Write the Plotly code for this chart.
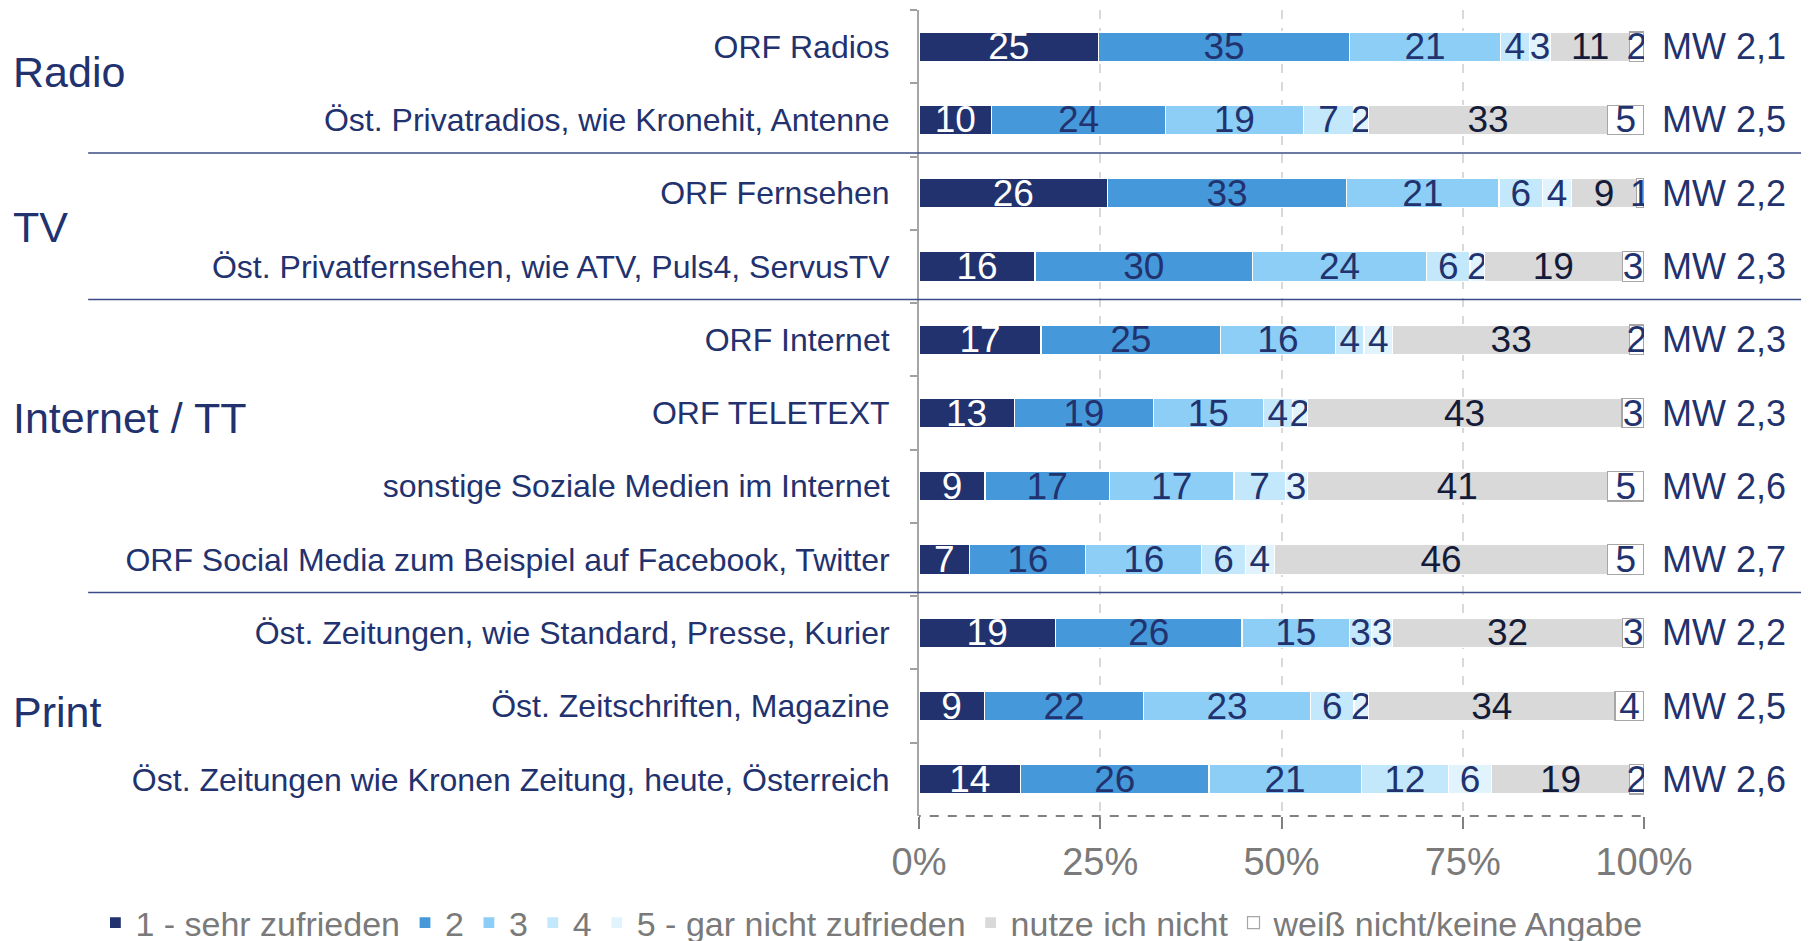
import plotly.graph_objects as go

categories = [
    "ORF Radios",
    "Öst. Privatradios, wie Kronehit, Antenne",
    "ORF Fernsehen",
    "Öst. Privatfernsehen, wie ATV, Puls4, ServusTV",
    "ORF Internet",
    "ORF TELETEXT",
    "sonstige Soziale Medien im Internet",
    "ORF Social Media zum Beispiel auf Facebook, Twitter",
    "Öst. Zeitungen, wie Standard, Presse, Kurier",
    "Öst. Zeitschriften, Magazine",
    "Öst. Zeitungen wie Kronen Zeitung, heute, Österreich",
]
groups = ["Radio", "TV", "Internet / TT", "Print"]
group_pos = [0.35, 2.46, 5.07, 9.08]
separators = [1.45, 3.45, 7.45]

series_names = ["1 - sehr zufrieden", "2", "3", "4", "5 - gar nicht zufrieden",
                "nutze ich nicht", "weiß nicht/keine Angabe"]
s1 = [25, 10, 26, 16, 17, 13, 9, 7, 19, 9, 14]
s2 = [35, 24, 33, 30, 25, 19, 17, 16, 26, 22, 26]
s3 = [21, 19, 21, 24, 16, 15, 17, 16, 15, 23, 21]
s4 = [4, 7, 6, 6, 4, 4, 7, 6, 3, 6, 12]
s5 = [3, 2, 4, 2, 4, 2, 3, 4, 3, 2, 6]
s6 = [11, 33, 9, 19, 33, 43, 41, 46, 32, 34, 19]
s7 = [2, 5, 1, 3, 2, 3, 5, 5, 3, 4, 2]
mw = ["2,1", "2,5", "2,2", "2,3", "2,3", "2,3", "2,6", "2,7", "2,2", "2,5", "2,6"]
tick_vals = [0, 25, 50, 75, 100]
tick_text = ["0%", "25%", "50%", "75%", "100%"]

series = [s1, s2, s3, s4, s5, s6, s7]
colors = ["#22326e", "#4599da", "#8ccef6", "#c3e8fb", "#e1f4fd", "#d9d9d9", "#ffffff"]
text_colors = ["#ffffff", "#22326e", "#22326e", "#22326e", "#22326e", "#141b38", "#22326e"]
line_colors = ["#ffffff"] * 6 + ["#a6a6a6"]

NAVY = "#22326e"
FONT = "Liberation Sans, Arial, sans-serif"

fig = go.Figure()
for name, vals, c, tc, lc in zip(series_names, series, colors, text_colors, line_colors):
    fig.add_trace(go.Bar(
        y=categories, x=vals, name=name, orientation="h",
        marker=dict(color=c, line=dict(color=lc, width=1.2)),
        text=[str(v) for v in vals], texttemplate="%{text}",
        textposition="inside", insidetextanchor="middle", textangle=0,
        constraintext="none",
        insidetextfont=dict(color=tc, size=37, family=FONT),
        width=0.4,
    ))

annotations = []
for g, p in zip(groups, group_pos):
    annotations.append(dict(text=g, xref="paper", yref="y", x=-1.253, y=p,
                            xanchor="left", yanchor="middle", showarrow=False,
                            font=dict(size=43, color=NAVY, family=FONT)))
for cat, m in zip(categories, mw):
    annotations.append(dict(text="MW " + m, xref="paper", yref="y", x=1.022, y=cat,
                            xanchor="left", yanchor="middle", showarrow=False,
                            font=dict(size=36, color=NAVY, family=FONT)))

shapes = []
for s in separators:
    shapes.append(dict(type="line", xref="paper", yref="y", x0=-1.146, x1=1.2166,
                       y0=s, y1=s, line=dict(color="#3b4b86", width=1.5)))
shapes.append(dict(type="line", xref="x", yref="paper", x0=-1, x1=100, y0=0, y1=0,
                   line=dict(color="#808080", width=2, dash="dash")))

fig.update_layout(
    barmode="stack", barnorm="percent",
    width=1812, height=975,
    margin=dict(l=911, r=176, t=2, b=167),
    plot_bgcolor="white", paper_bgcolor="white",
    font=dict(family=FONT, color=NAVY),
    annotations=annotations, shapes=shapes,
    legend=dict(orientation="h", x=-1.136, xanchor="left", y=-0.1328, yanchor="middle",
                font=dict(size=34, color="#7a7a7a", family=FONT),
                traceorder="normal", itemwidth=30, bgcolor="rgba(0,0,0,0)"),
    showlegend=True,
)
fig.update_xaxes(
    range=[0, 100], tickvals=tick_vals, ticktext=tick_text,
    showgrid=True, gridcolor="#d9d9d9", gridwidth=1.5, griddash="dash",
    zeroline=False, showline=False,
    ticks="outside", ticklen=12, tickcolor="#808080", tickwidth=1.5,
    tickfont=dict(size=38, color="#7a7a7a", family=FONT),
    ticklabelstandoff=0,
)
fig.update_yaxes(
    type="category", categoryorder="array", categoryarray=categories,
    range=[10.5, -0.5], tickson="boundaries",
    ticks="outside", ticklen=7, tickcolor="#a0a0a0", tickwidth=1.5,
    showline=True, linecolor="#a6a6a6", linewidth=2,
    showgrid=False, zeroline=False,
    tickfont=dict(size=32, color=NAVY, family=FONT),
    ticklabelstandoff=21,
)

fig.write_html("out.html")
